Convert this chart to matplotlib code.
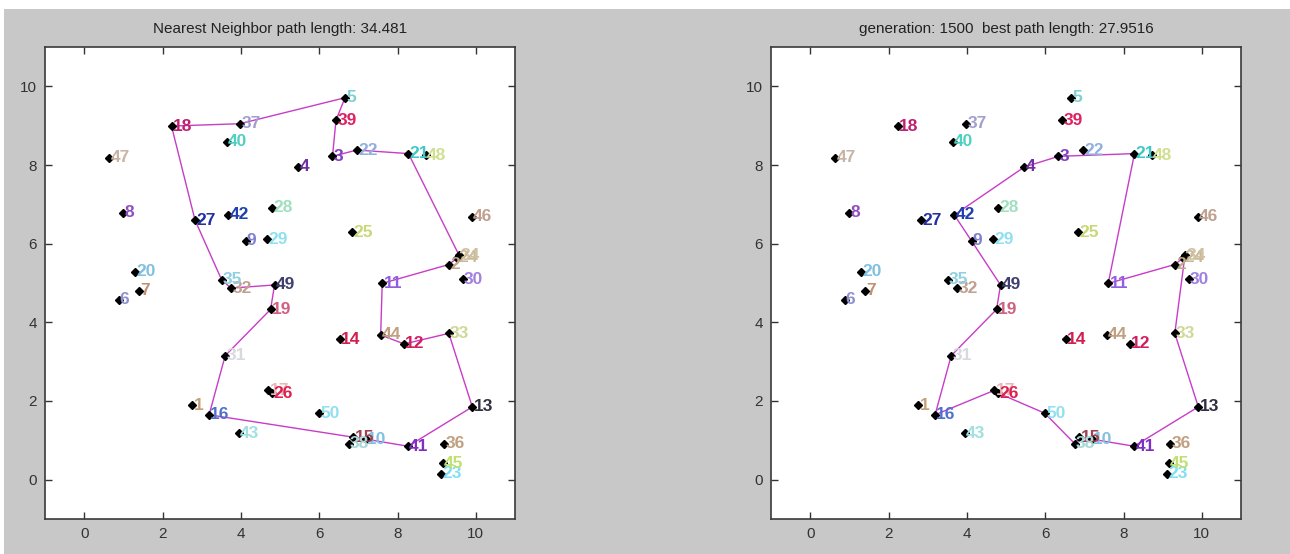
import matplotlib
matplotlib.use('Agg')
import matplotlib.pyplot as plt
from matplotlib.patches import Rectangle

plt.rcParams['font.family'] = ['Liberation Sans', 'DejaVu Sans']

#---------------------------------------city coordinates (index = city number - 1)
xs = [2.76, 9.31, 6.34, 5.47, 6.66, 0.88, 1.41, 1.00, 4.12, 7.19,
      7.61, 8.17, 9.91, 6.53, 6.87, 3.19, 4.70, 2.23, 4.76, 1.30,
      8.28, 6.96, 9.11, 9.53, 6.84, 4.80, 2.83, 4.80, 4.68, 9.66,
      3.60, 3.75, 9.31, 9.57, 3.51, 9.19, 3.98, 6.76, 6.43, 3.64,
      8.27, 3.68, 3.95, 7.57, 9.15, 9.89, 0.64, 8.72, 4.86, 5.99]
ys = [1.89, 5.47, 8.22, 7.95, 9.71, 4.57, 4.80, 6.79, 6.07, 1.03,
      4.99, 3.45, 1.85, 3.57, 1.08, 1.65, 2.27, 8.99, 4.33, 5.29,
      8.29, 8.38, 0.15, 5.64, 6.29, 2.20, 6.60, 6.91, 6.11, 5.09,
      3.15, 4.87, 3.72, 5.71, 5.08, 0.91, 9.05, 0.91, 9.14, 8.59,
      0.85, 6.73, 1.18, 3.68, 0.42, 6.68, 8.18, 8.25, 4.95, 1.69]
colours = ['#c8a078', '#c0a888', '#8040c0', '#7030a0', '#80d0d0',
           '#9090d0', '#c09070', '#9050c0', '#8080d0', '#80c0e0',
           '#9060e0', '#d02060', '#303040', '#d02050', '#a04050',
           '#5070d0', '#e8b8b8', '#c02070', '#d06080', '#80c0e0',
           '#40c8c8', '#90b0e0', '#80e0f0', '#c8b898', '#c8d878',
           '#e02050', '#2030a0', '#a0e0c0', '#90e0f0', '#a080e0',
           '#d8d8e0', '#c0a090', '#d0d898', '#d0c0a0', '#90d0e0',
           '#c0a080', '#a0a0d0', '#a8d8d8', '#e02060', '#50d0c0',
           '#8030c0', '#2040b0', '#a0e0e0', '#c0a080', '#c0e070',
           '#c0a090', '#c8b4a4', '#d0e090', '#404070', '#90e0f0']

#---------------------------------------tours (city numbers)
nn_path = [18, 37, 5, 39, 3, 22, 21, 34, 24, 2, 11, 44, 12, 33, 13, 41,
           10, 15, 16, 31, 19, 49, 32, 35, 27, 18]
ga_path = [4, 3, 21, 11, 2, 24, 34, 33, 13, 41, 10, 15, 38, 50, 26, 17,
           16, 31, 19, 49, 9, 42, 4]
titles = ['Nearest Neighbor path length: 34.481',
          'generation: 1500  best path length: 27.9516']

#---------------------------------------figure
fig = plt.figure(figsize=(12.9, 5.54), dpi=100, facecolor='white')
fig.patches.append(Rectangle((0.003, 0), 1, 1 - 9 / 554, transform=fig.transFigure,
                             facecolor='#c8c8c8', edgecolor='none', zorder=-1))

lefts = [45 / 1290, 771 / 1290]
for left, path, title in zip(lefts, [nn_path, ga_path], titles):
    ax = fig.add_axes([left, 35 / 554, 470 / 1290, 472 / 554])
    ax.set_facecolor('white')
    px = [xs[c - 1] for c in path]
    py = [ys[c - 1] for c in path]
    ax.plot(px, py, color='#c83cc8', lw=1.0, zorder=2)
    ax.plot(xs, ys, 'D', color='black', ms=4, zorder=3)
    for i in range(len(xs)):
        ax.text(xs[i] + 0.03, ys[i], str(i + 1), color=colours[i], fontsize=12.5,
                fontweight='bold', ha='left', va='center', zorder=4)
    ax.set_xlim(-1, 11)
    ax.set_ylim(-1, 11)
    ax.set_xticks(range(0, 11, 2))
    ax.set_yticks(range(0, 11, 2))
    ax.tick_params(direction='in', top=True, right=True, length=5, width=1,
                   labelsize=11, colors='#333333', pad=6)
    for s in ax.spines.values():
        s.set_color('#3a3a3a')
        s.set_linewidth(1.2)
    ax.set_title(title, fontsize=11, color='#222222', pad=10)

fig.savefig('out.png', dpi=100, facecolor=fig.get_facecolor())
